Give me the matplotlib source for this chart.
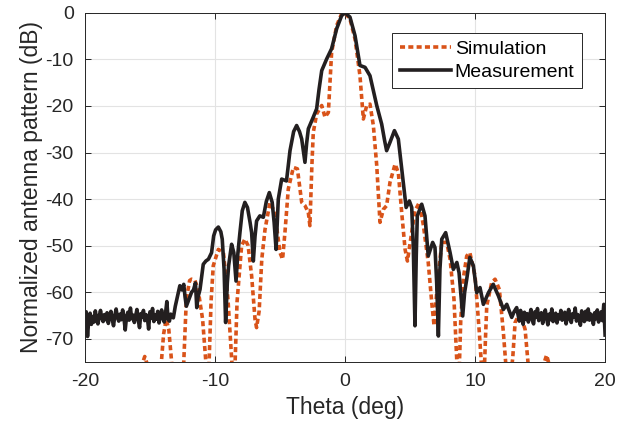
import numpy as np
import matplotlib
matplotlib.use("Agg")
import matplotlib.pyplot as plt

plt.rcParams['font.family'] = ['Liberation Sans', 'DejaVu Sans']
plt.rcParams['axes.unicode_minus'] = False

# ---- simulation (dB values below -75 are clipped by the axis) ----
sim_theta = [-20, -16.0, -15.6, -15.4, -15.2, -15.0, -14.5, -14.15, -13.95, -13.75, -13.55, -13.3,
             -13.0, -12.6, -12.4, -12.2, -11.95, -11.8, -11.55, -11.3, -10.95, -10.7, -10.6, -10.45,
             -10.3, -10.13, -9.74, -9.35, -9.0, -8.7, -8.6, -8.45, -8.3, -7.95, -7.7, -7.45, -7.18,
             -6.92, -6.8, -6.6, -6.4, -6.15, -5.77, -5.4, -5.0, -4.8, -4.62, -4.36, -3.97, -3.66,
             -3.33, -3.08, -2.82, -2.7, -2.55, -2.44, -2.18, -1.79, -1.54, -1.28, -1.03, -0.64, -0.26, 0,
             0.38, 0.77, 1.15, 1.41, 1.67, 1.92, 2.18, 2.44, 2.69, 2.95, 3.2, 3.46, 3.85, 4.1, 4.36,
             4.62, 4.8, 5.05, 5.38, 5.72, 6.03, 6.4, 6.67, 6.85, 7.05, 7.44, 7.82, 8.08, 8.38, 8.6,
             8.75, 8.9, 9.1, 9.36, 9.6, 10.0, 10.33, 10.5, 10.65, 10.8, 10.9, 11.28, 11.54, 11.87,
             12.18, 12.38, 12.6, 12.9, 13.08, 13.46, 13.85, 14.1, 14.6, 15.1, 15.5, 15.75, 16.2, 20]
sim_db = [-90, -80, -75.5, -73.8, -75.5, -82, -85, -76, -69, -65.8, -68, -76,
          -85, -82, -75, -61.5, -57.5, -57.2, -57.4, -59.4, -65.8, -75, -80, -75,
          -62, -54.3, -50.8, -51.5, -61.5, -75, -80, -75, -62, -50, -48.6, -50, -56.5,
          -65.8, -67.6, -64, -52.9, -46.5, -40.7, -42.9, -51.5, -52.9, -47.2, -37.8, -33.2, -33.5,
          -40.7, -41.4, -42.9, -45.7, -33, -25.7, -21.7, -19.9, -22.4, -21.4, -8.5, -2.7, -0.2, 0,
          -1.3, -5.6, -13.5, -22.8, -19.9, -19.6, -24.2, -32.8, -45, -42.2, -41.4, -36.4, -32.5, -34.3, -42.9,
          -50.8, -53.3, -48.6, -42.5, -40.7, -45.7, -53.6, -62.2, -67.2, -60.1, -49.3, -49.3, -52.9, -61.5, -75,
          -80, -66, -57, -52.2, -51.5, -56.5, -68.7, -76, -82, -70, -62.9, -57.9, -57.2, -59.4,
          -68.7, -76, -82, -74, -66.5, -64.4, -68, -76, -85, -77, -73.5, -76, -82, -90]

# ---- measurement: noisy floor on both sides + main lobe region ----
floor_left_theta = np.round(np.arange(-20.0, -13.25, 0.1), 2)
floor_left_db = [-65.0, -64.2, -69.5, -65.8, -64.5, -66.9, -65.2, -66.4, -64.0, -65.7,
                 -66.8, -65.1, -63.9, -65.6, -66.3, -64.8, -65.9, -64.4, -66.7, -65.3,
                 -64.1, -65.8, -67.2, -65.0, -63.6, -65.4, -66.2, -64.7, -65.9, -63.8,
                 -65.5, -68.1, -65.2, -64.3, -66.0, -63.4, -65.7, -64.9, -66.5, -65.1,
                 -63.7, -65.9, -67.6, -64.6, -65.3, -63.9, -66.1, -64.8, -65.4, -67.9,
                 -64.2, -65.6, -63.5, -66.3, -64.9, -65.8, -64.1, -66.6, -65.0, -63.8,
                 -65.7, -66.4, -64.5, -62.0, -65.9, -66.2, -64.7, -65.3]

lobe_theta = [-13.2, -13.05, -12.85, -12.7, -12.55, -12.4, -12.3, -12.2, -12.0, -11.8, -11.65, -11.5,
              -11.4, -11.3, -11.15, -10.9, -10.7, -10.5, -10.26, -10.1, -9.95, -9.74, -9.55, -9.44,
              -9.3, -9.18, -9.05, -8.95, -8.72, -8.55, -8.38, -8.25, -8.08, -7.9, -7.7, -7.5, -7.3,
              -7.18, -7.05, -6.92, -6.8, -6.55, -6.28, -6.05, -5.82, -5.6, -5.45, -5.3, -5.13, -4.87,
              -4.5, -4.23, -3.95, -3.72, -3.5, -3.33, -3.08, -2.95, -2.82, -2.44, -2.18, -2.0, -1.79,
              -1.41, -1.03, -0.64, -0.26, 0,
              0.38, 0.77, 1.15, 1.54, 1.92, 2.2, 2.44, 2.82, 3.05, 3.2, 3.46, 3.8, 4.1, 4.3, 4.5,
              4.7, 4.95, 5.13, 5.25, 5.38, 5.48, 5.56, 5.9, 6.15, 6.4, 6.74, 6.92, 7.05, 7.18, 7.3,
              7.44, 7.74, 8.08, 8.33, 8.6, 8.77, 9.05, 9.2, 9.36, 9.6, 9.87, 10.13, 10.38, 10.64,
              11.03, 11.4, 11.8, 12.18, 12.44, 12.82, 13.0, 13.2]
lobe_db = [-65.5, -63, -60.5, -58.6, -59.5, -58.3, -61, -63, -61.5, -60, -59.5, -58,
           -63.3, -61, -59.4, -54, -53.3, -52.9, -51.5, -47.9, -46.6, -46, -47, -48.6,
           -55, -66.5, -58, -54.3, -49.7, -51.5, -57.6, -52, -47.2, -42.5, -40.7, -41.8, -45,
           -47.2, -53.3, -48, -44.7, -43.6, -43.9, -40.5, -38.6, -40.7, -45, -50.8, -40, -35.7,
           -36.1, -29.6, -25.5, -24.2, -25.5, -27.1, -32.1, -28, -24.9, -22.4, -20.6, -16.5, -12.4,
           -9.9, -7.7, -3.4, -0.6, 0,
           -0.9, -4.9, -11.3, -11.7, -13.5, -17, -19.9, -23.9, -27.5, -29.6, -27.8, -25.3, -27.1, -32, -37.1,
           -41.8, -40.4, -41.8, -50, -67.2, -52, -43.6, -41.1, -43.6, -52.2, -49.3, -50.4, -58, -69.4, -55,
           -48.6, -47.2, -51.5, -55.1, -53.6, -55.8, -65.1, -60, -57.2, -52.5, -54.3, -60.1, -59, -62.6,
           -60.1, -58.3, -60.8, -63.7, -62.6, -65.4, -64.2, -63.3]

floor_right_theta = np.round(np.arange(13.3, 20.05, 0.1), 2)
floor_right_db = [-64.8, -66.2, -63.9, -65.5, -66.9, -64.3, -65.8, -64.6, -66.4, -65.1,
                  -63.7, -65.9, -66.8, -64.2, -65.4, -63.5, -66.1, -65.0, -64.4, -66.7,
                  -65.3, -63.8, -65.6, -67.0, -64.7, -65.9, -63.6, -66.3, -65.2, -64.5,
                  -66.6, -64.9, -65.7, -63.9, -66.0, -65.4, -64.3, -66.8, -65.1, -63.7,
                  -65.8, -66.5, -64.6, -65.3, -63.4, -66.2, -64.8, -65.6, -67.1, -64.0,
                  -65.5, -66.3, -64.1, -65.9, -63.6, -66.0, -64.7, -65.2, -66.9, -64.4,
                  -65.7, -63.8, -66.4, -65.0, -64.2, -66.1, -62.6, -69.2]

meas_theta = np.concatenate([floor_left_theta, lobe_theta, floor_right_theta])
meas_db = np.concatenate([floor_left_db, lobe_db, floor_right_db])

fig = plt.figure(figsize=(6.29, 4.28), dpi=100)
ax = fig.add_axes([0.135, 0.154, 0.827, 0.816])

ax.plot(sim_theta, sim_db, color='#D95319', lw=2.6, dashes=(1.4, 0.9), label='Simulation')
ax.plot(meas_theta, meas_db, color='#231F20', lw=2.6, label='Measurement')

ax.set_xlim(-20, 20)
ax.set_ylim(-75, 0)
ax.set_xticks([-20, -10, 0, 10, 20])
ax.set_yticks([-70, -60, -50, -40, -30, -20, -10, 0])
ax.grid(True, color='#E3E3E3', lw=0.8)
ax.set_axisbelow(True)
for s in ax.spines.values():
    s.set_color('#262626')
    s.set_linewidth(0.7)
ax.tick_params(direction='in', top=True, right=True, length=4, width=0.7,
               colors='#262626', labelsize=14, pad=8)
ax.set_xlabel('Theta (deg)', fontsize=16.5, color='#262626', labelpad=4)
ax.set_ylabel('Normalized antenna pattern (dB)', fontsize=16.5, color='#262626', labelpad=2)

leg = ax.legend(loc='upper right', bbox_to_anchor=(0.956, 0.943), fontsize=14,
                handlelength=2.6, handletextpad=0.2, borderpad=0.4, labelspacing=0.25,
                fancybox=False, framealpha=1, edgecolor='#262626', borderaxespad=0)
leg.get_frame().set_linewidth(0.7)

fig.savefig('out.png', dpi=100)
